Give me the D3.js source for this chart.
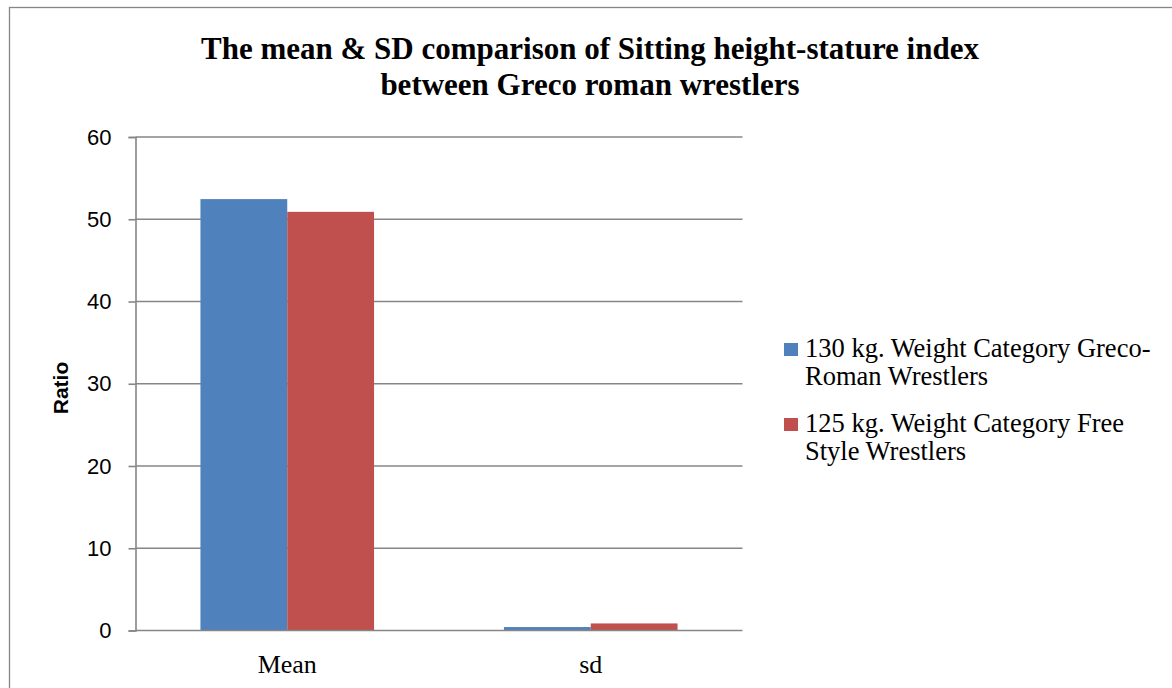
<!DOCTYPE html>
<html>
<head>
<meta charset="utf-8">
<script src="https://cdn.jsdelivr.net/npm/d3@7"></script>
<style>
  html, body { margin: 0; padding: 0; background: #fff; }
  svg { display: block; }
</style>
</head>
<body>
<svg id="chart" width="1172" height="688"></svg>
<script>
const categories = ["Mean", "sd"];
const seriesNames = [
  ["130 kg. Weight Category Greco-", "Roman Wrestlers"],
  ["125 kg. Weight Category Free", "Style Wrestlers"]
];
const seriesColors = ["#4f81bd", "#c0504d"];
const greco = [52.45, 0.42];
const freeStyle = [50.9, 0.86];
const yTicks = [0, 10, 20, 30, 40, 50, 60];
const titleLines = [
  "The mean & SD comparison of Sitting height-stature index",
  "between Greco roman wrestlers"
];
const yLabel = "Ratio";

const series = [greco, freeStyle];
const svg = d3.select("#chart");

// outer chart border
svg.append("rect")
  .attr("x", 9.5).attr("y", 7.5)
  .attr("width", 1200).attr("height", 700)
  .attr("fill", "none").attr("stroke", "#868686").attr("stroke-width", 1.3);

const plot = { left: 135.5, right: 742.5, top: 137, bottom: 630.5 };

const x0 = d3.scaleBand().domain(categories).range([plot.left, plot.right]).paddingInner(0).paddingOuter(0);
const barPad = 0.214; // gap width ~150%
const x1 = d3.scaleBand().domain(d3.range(series.length))
  .range([x0.bandwidth() * barPad, x0.bandwidth() * (1 - barPad)]);
const y = d3.scaleLinear().domain([0, 60]).range([plot.bottom, plot.top]);

// gridlines
svg.append("g").selectAll("line").data(yTicks.filter(d => d > 0)).join("line")
  .attr("x1", plot.left).attr("x2", plot.right)
  .attr("y1", d => y(d)).attr("y2", d => y(d))
  .attr("stroke", "#868686").attr("stroke-width", 1.6);

// bars
const g = svg.append("g");
categories.forEach((c, ci) => {
  series.forEach((s, si) => {
    g.append("rect")
      .attr("x", x0(c) + x1(si))
      .attr("width", x1.bandwidth())
      .attr("y", y(s[ci]))
      .attr("height", y(0) - y(s[ci]))
      .attr("fill", seriesColors[si]);
  });
});

// y axis
const yAxis = d3.axisLeft(y).tickValues(yTicks).tickSize(7).tickPadding(17);
const ya = svg.append("g").attr("transform", `translate(${plot.left},0)`).call(yAxis);
ya.select(".domain").attr("stroke", "#868686").attr("stroke-width", 1.6);
ya.selectAll(".tick line").attr("stroke", "#868686").attr("stroke-width", 1.6);
ya.selectAll(".tick text")
  .attr("font-family", "'Liberation Sans', Arial, sans-serif")
  .attr("font-size", 22).attr("fill", "#000");

// x axis
const xAxis = d3.axisBottom(x0).tickSize(0).tickPadding(24);
const xa = svg.append("g").attr("transform", `translate(0,${plot.bottom})`).call(xAxis);
xa.select(".domain").remove();
xa.append("line").attr("x1", plot.left).attr("x2", plot.right)
  .attr("stroke", "#868686").attr("stroke-width", 1.6);
xa.selectAll(".tick text")
  .attr("font-family", "'Liberation Serif', 'Times New Roman', serif")
  .attr("font-size", 26).attr("fill", "#000");

// y label
svg.append("text")
  .attr("transform", "translate(68,388) rotate(-90)")
  .attr("text-anchor", "middle")
  .attr("font-family", "'Liberation Sans', Arial, sans-serif")
  .attr("font-weight", "bold").attr("font-size", 21)
  .text(yLabel);

// title
const t = svg.append("text")
  .attr("text-anchor", "middle")
  .attr("font-family", "'Liberation Serif', 'Times New Roman', serif")
  .attr("font-weight", "bold").attr("font-size", 31).attr("fill", "#000");
titleLines.forEach((line, i) => {
  t.append("tspan").attr("x", 590).attr("y", 59 + i * 36).text(line);
});

// legend
const legend = svg.append("g");
const legendY = [357, 432];
seriesNames.forEach((lines, i) => {
  legend.append("rect")
    .attr("x", 784).attr("y", legendY[i] - 14)
    .attr("width", 14).attr("height", 13)
    .attr("fill", seriesColors[i]);
  const tx = legend.append("text")
    .attr("font-family", "'Liberation Serif', 'Times New Roman', serif")
    .attr("font-size", 26.5).attr("fill", "#000");
  lines.forEach((l, j) => {
    tx.append("tspan").attr("x", 805).attr("y", legendY[i] + j * 28).text(l);
  });
});
</script>
</body>
</html>
